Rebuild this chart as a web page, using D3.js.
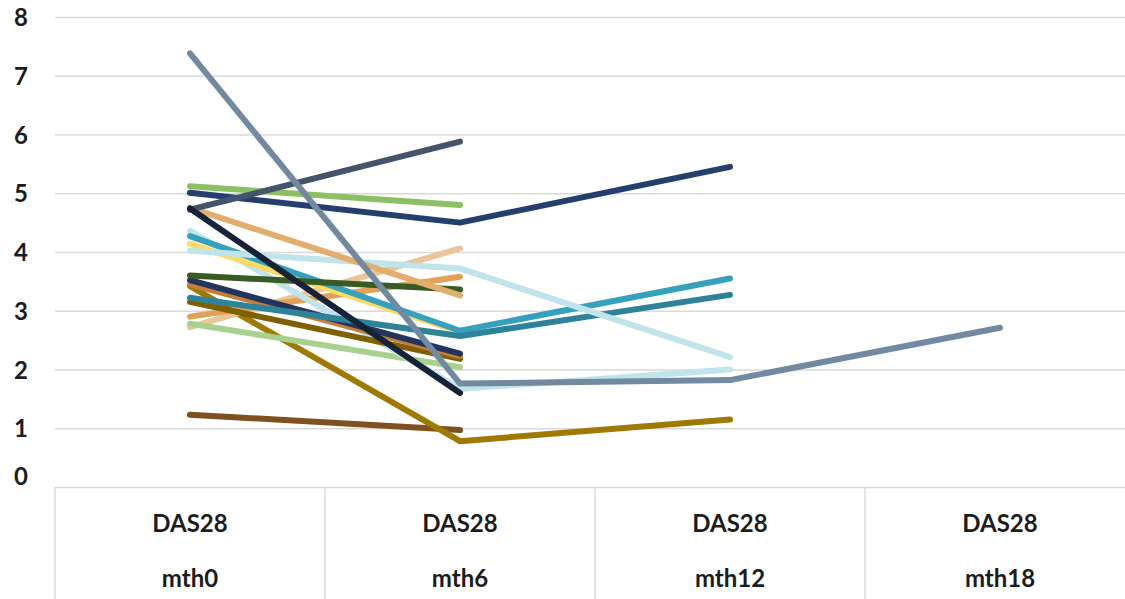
<!DOCTYPE html>
<html>
<head>
<meta charset="utf-8">
<script src="https://cdn.jsdelivr.net/npm/d3@7"></script>
<style>
  html, body { margin: 0; padding: 0; background: #fff; }
  svg { display: block; }
  text { font-family: Lato, "Open Sans", sans-serif; font-weight: 700; fill: #1c1c1c; }
</style>
</head>
<body>
<svg id="chart" width="1125" height="599"></svg>
<script>
// Visits along the category axis (two label rows: measure / month)
const measureLabel = "DAS28";
const categories = ["mth0", "mth6", "mth12", "mth18"];
const yTicks = [0, 1, 2, 3, 4, 5, 6, 7, 8];

// DAS28 score per patient at each visit (null = no visit recorded)
const patientBrown      = [1.23, 0.97, null, null];
const patientGold       = [3.42, 0.78, 1.15, null];
const patientLightTan   = [2.72, 4.06, null, null];
const patientOrangeTan  = [2.90, 3.58, null, null];
const patientLightGreen = [2.78, 2.04, null, null];
const patientSky        = [4.36, 1.67, 2.00, null];
const patientOlive      = [3.15, 2.18, null, null];
const patientCopper     = [3.45, 2.23, null, null];
const patientIndigo     = [3.52, 2.27, null, null];
const patientYellow     = [4.14, 2.64, null, null];
const patientTeal       = [4.27, 2.66, 3.55, null];
const patientDeepTeal   = [3.22, 2.57, 3.27, null];
const patientPaleBlue   = [4.02, 3.72, 2.21, null];
const patientForest     = [3.60, 3.36, null, null];
const patientTan        = [4.75, 3.26, null, null];
const patientGreen      = [5.12, 4.80, null, null];
const patientNavy       = [5.01, 4.50, 5.45, null];
const patientSlate      = [4.72, 5.88, null, null];
const patientMidnight   = [4.74, 1.60, null, null];
const patientSteel      = [7.38, 1.76, 1.82, 2.71];

// Drawing order (later lines sit on top) and their stroke colours
const seriesValues = [
  patientBrown, patientGold, patientLightTan, patientOrangeTan, patientLightGreen,
  patientSky, patientOlive, patientCopper, patientIndigo, patientYellow,
  patientTeal, patientDeepTeal, patientPaleBlue, patientForest, patientTan,
  patientGreen, patientNavy, patientSlate, patientMidnight, patientSteel
];
const seriesColors = [
  "#7f5020", "#a07a00", "#ebc597", "#e0a256", "#a9d18e",
  "#bfe4ec", "#7f6000", "#c57e3a", "#22355e", "#ffd966",
  "#35a1bd", "#2e839a", "#bfe4ec", "#3a5a24", "#e2ae6e",
  "#8dc063", "#243f6e", "#44546a", "#152238", "#7189a1"
];

const svg = d3.select("#chart");
const plotLeft = 55, plotRight = 1135, plotTop = 17, plotBase = 487, plotBottom = 599;

const x = d3.scaleBand().domain(categories).range([plotLeft, plotRight]).paddingInner(0).paddingOuter(0);
const y = d3.scaleLinear().domain([0, 8]).range([plotBase, plotTop]);
const cx = c => x(c) + x.bandwidth() / 2;

// Horizontal gridlines
svg.append("g")
  .attr("transform", `translate(${plotLeft},0)`)
  .call(d3.axisLeft(y).tickValues(yTicks).tickSize(-(plotRight - plotLeft)).tickFormat(""))
  .call(g => g.select(".domain").remove())
  .call(g => g.selectAll(".tick line").attr("stroke", "#d9d9d9").attr("stroke-width", 1.4));

// Value labels
svg.append("g")
  .attr("transform", "translate(28,0)")
  .call(d3.axisLeft(y).tickValues(yTicks).tickSize(0).tickPadding(0).tickFormat(d3.format("d")))
  .call(g => g.select(".domain").remove())
  .call(g => g.selectAll(".tick text")
    .attr("font-size", 24)
    .attr("dy", d => d === 0 ? "-0.1em" : "0.36em"));

// Category box: separators between visits
const edges = categories.map(c => x(c)).concat([plotRight]);
svg.append("g").selectAll("line").data(edges).join("line")
  .attr("x1", d => d).attr("x2", d => d)
  .attr("y1", plotBase).attr("y2", plotBottom)
  .attr("stroke", "#d9d9d9").attr("stroke-width", 1.4);

// Two-row category labels
const catG = svg.append("g").attr("text-anchor", "middle").attr("font-size", 24);
catG.selectAll("text.m").data(categories).join("text")
  .attr("class", "m")
  .attr("x", cx).attr("y", 523).attr("dy", "0.36em")
  .text(measureLabel);
catG.selectAll("text.c").data(categories).join("text")
  .attr("class", "c")
  .attr("x", cx).attr("y", 578).attr("dy", "0.36em")
  .text(d => d);

// Patient lines
const line = d3.line()
  .defined(d => d.v != null)
  .x(d => cx(d.c))
  .y(d => y(d.v));

svg.append("g").selectAll("path")
  .data(seriesValues.map((vals, i) => ({ color: seriesColors[i], pts: vals.map((v, j) => ({ c: categories[j], v })) })))
  .join("path")
  .attr("fill", "none")
  .attr("stroke", d => d.color)
  .attr("stroke-width", 6)
  .attr("stroke-linecap", "round")
  .attr("stroke-linejoin", "round")
  .attr("d", d => line(d.pts));
</script>
</body>
</html>
